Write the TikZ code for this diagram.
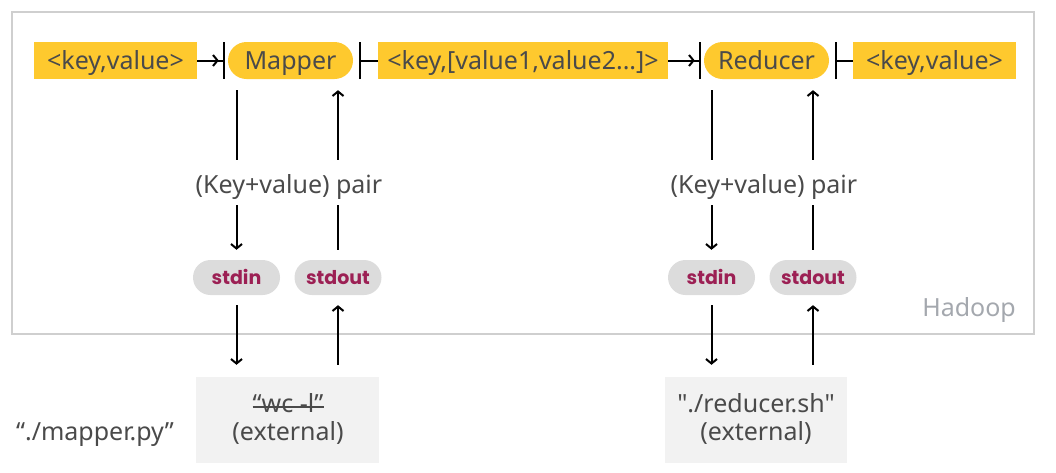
\documentclass[tikz,border=0pt]{standalone}
\usepackage{fontspec}
\setmainfont{Noto Sans}
\newfontfamily\tagfont{Poppins}
\usetikzlibrary{arrows.meta}

\definecolor{hyellow}{HTML}{FEC92E}
\definecolor{ink}{HTML}{4A4A4A}
\definecolor{pillgray}{HTML}{DCDCDC}
\definecolor{tagred}{HTML}{9C2054}
\definecolor{framegray}{HTML}{CFCFCF}
\definecolor{labelgray}{HTML}{A4A8AE}
\definecolor{extgray}{HTML}{F2F2F2}

\begin{document}
\begin{tikzpicture}[x=1pt,y=-1pt,
  txt/.style={text=ink, font=\fontsize{25}{30}\selectfont, inner sep=0pt},
  line/.style={txt, anchor=base, text height=18pt, text depth=6pt},
  kv/.style={txt, fill=hyellow, minimum height=37pt, text height=18pt, text depth=1pt},
  stage/.style={kv, rounded corners=18.5pt, minimum width=125pt},
  tag/.style={fill=pillgray, text=tagred, font=\tagfont\bfseries\fontsize{19}{23}\selectfont,
    rounded corners=17.5pt, minimum width=87pt, minimum height=35pt, inner sep=0pt,
    text height=14pt, text depth=0pt},
  extbox/.style={fill=extgray, minimum height=86pt, inner sep=0pt},
  ln/.style={draw=black, line width=2pt},
  arr/.style={ln, -{Straight Barb[length=4.5pt,width=11pt]}},
  feed/.style={ln, -{Straight Barb[length=4.5pt,width=11pt,sep=4pt]Bar[width=37pt]}, shorten >=3pt},
  emit/.style={ln, {Bar[width=37pt]}-, shorten <=6pt}
]
\useasboundingbox (0,0) rectangle (1056,472);

% Hadoop frame
\node[draw=framegray, line width=2pt, minimum width=1022pt, minimum height=322pt, inner sep=0pt]
  (hadoop) at (523,173) {};
\node[txt, text=labelgray, font=\fontsize{25}{30}\selectfont, anchor=base east] (hadooplbl) at (1016,316) {Hadoop};

% top row
\node[kv, minimum width=163pt] (kvin)  at (115.5,60.5) {<key,value>};
\node[stage] (mapper) at (290.5,60.5) {Mapper};
\node[kv, minimum width=290pt] (kvmid) at (523,60.5) {<key,[value1,value2...]>};
\node[stage] (reducer) at (766.5,60.5) {Reducer};
\node[kv, minimum width=163pt] (kvout) at (934.5,60.5) {<key,value>};

\draw[feed] (kvin) -- (mapper);
\draw[emit] (mapper) -- (kvmid);
\draw[feed] (kvmid) -- (reducer);
\draw[emit] (reducer) -- (kvout);

% pair labels (span 175..199)
\node[line] (pm) at (289,193) {(Key+value) pair};
\node[line] (pr) at (764,193) {(Key+value) pair};

% stream tags
\node[tag] (min)  at (236.5,277.5) {stdin};
\node[tag] (mout) at (338,277.5) {stdout};
\node[tag] (rin)  at (711.5,277.5) {stdin};
\node[tag] (rout) at (813,277.5) {stdout};

% external programs
\node[extbox, minimum width=183pt] (ext1) at (287.5,420) {};
\node[line] (wc) at (288,412) {“wc -l”};
\draw[ink, line width=1.5pt] ([yshift=-1pt]wc.west) -- ([yshift=-1pt]wc.east);
\node[line] (ext1lbl) at (288,440) {(external)};
\node[extbox, minimum width=182pt] (ext2) at (756,420) {};
\node[line] (redsh) at (756,412) {\addfontfeature{Ligatures=TeXOff}"./reducer.sh"};
\node[line] (ext2lbl) at (756,440) {(external)};
\node[line] (mappy) at (95,440) {“./mapper.py”};

% mapper side streams
\draw[ln, shorten <=11pt, shorten >=15pt] (mapper.south -| min) -- (pm.north -| min);
\draw[arr, shorten <=6pt, shorten >=10pt] (pm.south -| min) -- (min.north);
\draw[arr, shorten <=10pt, shorten >=12pt] (min.south) -- (ext1.north -| min);
\draw[arr, shorten <=15pt, shorten >=11pt] (pm.north -| mout) -- (mapper.south -| mout);
\draw[ln, shorten <=10pt, shorten >=6pt] (mout.north) -- (pm.south -| mout);
\draw[arr, shorten <=12pt, shorten >=10pt] (ext1.north -| mout) -- (mout.south);

% reducer side streams
\draw[ln, shorten <=11pt, shorten >=15pt] (reducer.south -| rin) -- (pr.north -| rin);
\draw[arr, shorten <=6pt, shorten >=10pt] (pr.south -| rin) -- (rin.north);
\draw[arr, shorten <=10pt, shorten >=12pt] (rin.south) -- (ext2.north -| rin);
\draw[arr, shorten <=15pt, shorten >=11pt] (pr.north -| rout) -- (reducer.south -| rout);
\draw[ln, shorten <=10pt, shorten >=6pt] (rout.north) -- (pr.south -| rout);
\draw[arr, shorten <=12pt, shorten >=10pt] (ext2.north -| rout) -- (rout.south);
\end{tikzpicture}
\end{document}
